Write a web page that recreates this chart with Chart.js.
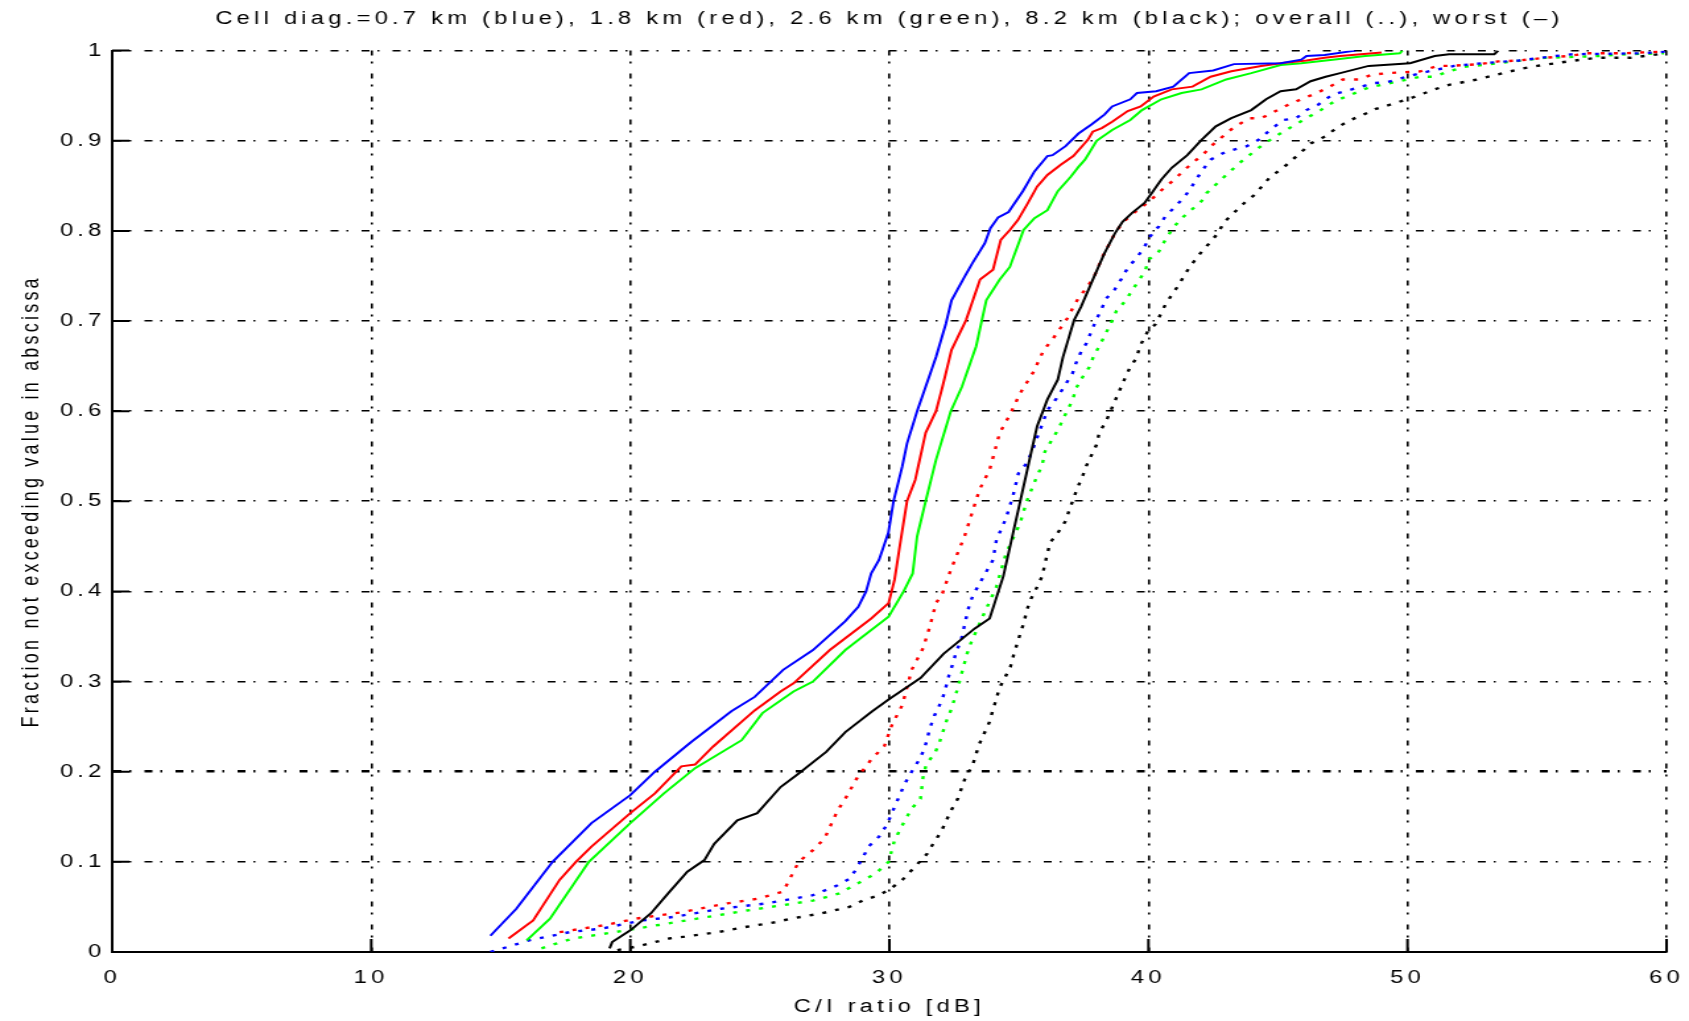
<!DOCTYPE html>
<html>
<head>
<meta charset="utf-8">
<script src="https://cdn.jsdelivr.net/npm/chart.js@4.4.0/dist/chart.umd.min.js"></script>
<style>
  html, body { margin: 0; padding: 0; background: #fff; }
  #wrap { width: 1689px; height: 1021px; }
</style>
</head>
<body>
<div id="wrap">
  <!-- drawn at 1280 wide and stretched, like the old upscaled figure -->
  <canvas id="cdfChart" width="1280" height="1021" style="width:1689px;height:1021px"></canvas>
</div>
<script>
const titleText = 'Cell diag.=0.7 km (blue), 1.8 km (red), 2.6 km (green), 8.2 km (black); overall (..), worst (\u2013)';
const xTitle = 'C/I ratio [dB]';
const yTitle = 'Fraction not exceeding value in abscissa';
const xTickLabels = ['0', '10', '20', '30', '40', '50', '60'];
const yTickLabels = ['0', '0.1', '0.2', '0.3', '0.4', '0.5', '0.6', '0.7', '0.8', '0.9', '1'];

// worst (solid) curves, [C/I dB, fraction]
const blueWorst = [[14.6,0.018],[15.6,0.048],[17.0,0.10],[18.5,0.143],[20.0,0.174],[20.95,0.20],[22.35,0.233],[23.9,0.267],[24.8,0.283],[25.9,0.313],[27.05,0.335],[28.3,0.367],[28.8,0.383],[29.1,0.40],[29.3,0.42],[29.6,0.435],[29.96,0.465],[30.16,0.50],[30.5,0.539],[30.68,0.564],[31.07,0.60],[31.4,0.627],[31.8,0.66],[32.18,0.697],[32.4,0.723],[32.9,0.749],[33.2,0.764],[33.68,0.786],[33.9,0.803],[34.2,0.815],[34.6,0.821],[35.15,0.844],[35.6,0.866],[36.1,0.883],[36.3,0.884],[36.8,0.894],[37.3,0.908],[37.8,0.918],[38.3,0.929],[38.6,0.938],[39.3,0.946],[39.56,0.953],[40.3,0.955],[40.96,0.96],[41.57,0.975],[42.5,0.978],[43.3,0.985],[45.1,0.986],[45.9,0.99],[46.1,0.994],[46.8,0.995],[48.0,1.0]];
const redWorst = [[15.3,0.015],[16.25,0.035],[17.27,0.08],[17.9,0.10],[18.5,0.117],[20.0,0.154],[20.95,0.176],[21.97,0.206],[22.5,0.208],[23.2,0.228],[24.8,0.268],[25.8,0.289],[26.3,0.298],[27.7,0.335],[29.3,0.37],[29.97,0.387],[30.2,0.413],[30.4,0.45],[30.68,0.50],[31.0,0.524],[31.4,0.576],[31.8,0.60],[32.05,0.627],[32.4,0.668],[32.96,0.701],[33.5,0.746],[34.0,0.757],[34.3,0.79],[34.65,0.801],[34.96,0.812],[35.35,0.831],[35.7,0.849],[36.1,0.862],[36.6,0.873],[37.1,0.883],[37.66,0.901],[37.85,0.91],[38.2,0.914],[38.6,0.921],[39.2,0.933],[39.7,0.938],[40.2,0.949],[40.9,0.957],[41.7,0.96],[42.4,0.971],[43.2,0.977],[44.35,0.983],[45.1,0.986],[46.1,0.989],[46.8,0.992],[47.4,0.994],[49.0,0.998]];
const greenWorst = [[16.0,0.013],[16.9,0.037],[18.4,0.10],[20.0,0.143],[21.3,0.176],[22.5,0.204],[24.3,0.235],[25.1,0.265],[26.3,0.289],[27.05,0.30],[28.3,0.335],[29.97,0.372],[30.55,0.40],[30.9,0.42],[31.07,0.461],[31.4,0.50],[31.8,0.546],[32.37,0.60],[32.8,0.627],[33.35,0.672],[33.74,0.723],[34.26,0.746],[34.65,0.76],[35.18,0.801],[35.6,0.814],[36.1,0.823],[36.5,0.844],[37.0,0.86],[37.3,0.871],[37.55,0.879],[38.0,0.90],[38.6,0.912],[39.3,0.923],[39.75,0.934],[40.5,0.946],[41.28,0.953],[42.05,0.957],[43.0,0.968],[43.97,0.975],[45.1,0.984],[45.9,0.986],[47.2,0.99],[48.37,0.994],[49.7,0.997],[49.8,1.0]];
const blackWorst = [[19.2,0.004],[19.3,0.011],[20.0,0.024],[20.8,0.043],[21.46,0.065],[22.2,0.089],[22.86,0.102],[23.24,0.12],[24.13,0.146],[24.9,0.154],[25.8,0.183],[26.5,0.198],[27.56,0.222],[28.3,0.244],[29.34,0.267],[29.97,0.28],[31.2,0.304],[32.1,0.331],[33.3,0.359],[33.87,0.37],[34.4,0.417],[34.8,0.468],[35.05,0.50],[35.44,0.55],[35.7,0.583],[36.1,0.613],[36.5,0.635],[36.7,0.66],[37.13,0.701],[37.4,0.716],[37.9,0.749],[38.3,0.775],[38.7,0.797],[39.0,0.81],[39.37,0.82],[39.85,0.831],[40.13,0.842],[40.5,0.857],[40.9,0.87],[41.5,0.884],[42.05,0.901],[42.6,0.916],[43.2,0.925],[43.97,0.934],[44.54,0.946],[45.1,0.955],[45.7,0.957],[46.26,0.966],[46.84,0.971],[47.4,0.975],[48.5,0.983],[50.1,0.986],[51.05,0.994],[51.6,0.996],[53.35,0.996],[53.5,1.0]];

// overall (dotted) curves
const blueOverall = [[14.6,0.0],[14.85,0.002],[15.3,0.006],[16.1,0.013],[17.65,0.022],[18.9,0.026],[20.45,0.035],[21.7,0.039],[23.5,0.048],[25.27,0.054],[27.05,0.063],[28.0,0.074],[28.45,0.081],[28.7,0.091],[28.96,0.104],[29.2,0.117],[29.6,0.128],[29.9,0.141],[30.2,0.161],[30.6,0.187],[30.86,0.20],[31.1,0.211],[31.3,0.222],[31.43,0.233],[31.56,0.248],[31.75,0.263],[31.88,0.27],[32.07,0.283],[32.2,0.296],[32.3,0.307],[32.45,0.32],[32.58,0.333],[32.77,0.346],[32.96,0.37],[33.1,0.387],[33.27,0.398],[34.0,0.435],[34.13,0.457],[34.5,0.481],[34.78,0.507],[34.98,0.531],[35.3,0.542],[35.5,0.555],[36.1,0.601],[36.5,0.616],[36.74,0.627],[37.07,0.642],[37.2,0.653],[37.4,0.666],[37.6,0.675],[37.98,0.701],[38.17,0.712],[38.37,0.725],[38.7,0.735],[38.96,0.747],[39.2,0.759],[39.54,0.77],[39.8,0.78],[40.07,0.794],[40.4,0.805],[40.65,0.816],[41.0,0.826],[41.4,0.838],[41.67,0.849],[42.05,0.866],[42.4,0.879],[43.0,0.888],[43.8,0.894],[44.25,0.901],[44.7,0.912],[45.2,0.923],[45.7,0.925],[46.1,0.934],[46.55,0.94],[47.1,0.951],[48.1,0.959],[48.7,0.964],[49.2,0.965],[50.5,0.975],[51.15,0.979],[51.8,0.983],[52.9,0.986],[54.3,0.989],[55.7,0.994],[56.4,0.996],[59.1,0.997],[60.0,0.999]];
const redOverall = [[17.27,0.022],[19.05,0.03],[20.2,0.037],[21.97,0.044],[23.75,0.054],[24.9,0.059],[25.9,0.067],[26.5,0.10],[27.05,0.113],[27.5,0.126],[28.0,0.157],[28.3,0.17],[28.77,0.194],[29.34,0.215],[29.8,0.228],[30.1,0.252],[30.5,0.274],[30.86,0.313],[31.3,0.337],[31.56,0.361],[31.8,0.387],[32.05,0.398],[32.37,0.424],[32.9,0.461],[33.48,0.513],[33.87,0.535],[34.26,0.576],[34.65,0.596],[35.05,0.62],[35.57,0.644],[35.96,0.668],[36.28,0.679],[36.87,0.703],[37.07,0.714],[37.33,0.727],[37.6,0.736],[37.9,0.749],[38.24,0.772],[38.7,0.797],[39.0,0.809],[39.35,0.818],[40.0,0.832],[40.5,0.845],[41.0,0.857],[41.4,0.868],[42.15,0.886],[42.5,0.896],[43.3,0.915],[43.9,0.925],[44.35,0.925],[45.4,0.94],[45.9,0.946],[46.5,0.953],[47.0,0.96],[47.5,0.968],[48.1,0.968],[48.6,0.973],[49.2,0.975],[50.5,0.977],[51.15,0.983],[51.6,0.983],[52.8,0.985],[53.5,0.988],[54.3,0.989],[55.3,0.992],[56.2,0.994],[57.0,0.997],[58.3,0.997],[59.9,0.999]];
const greenOverall = [[16.57,0.004],[17.1,0.009],[17.8,0.015],[19.4,0.022],[21.1,0.03],[23.0,0.039],[24.5,0.046],[27.05,0.057],[28.07,0.065],[29.47,0.087],[29.97,0.10],[30.2,0.124],[30.6,0.146],[30.86,0.159],[31.2,0.17],[31.3,0.194],[31.43,0.209],[31.75,0.22],[31.94,0.233],[32.2,0.256],[32.4,0.27],[32.64,0.293],[32.77,0.307],[33.0,0.331],[33.15,0.343],[33.6,0.372],[34.13,0.405],[34.5,0.442],[35.05,0.476],[35.3,0.50],[35.7,0.528],[35.9,0.54],[36.0,0.555],[36.5,0.579],[36.67,0.589],[36.87,0.601],[37.07,0.612],[37.2,0.625],[37.46,0.638],[37.72,0.649],[37.9,0.662],[38.1,0.672],[38.56,0.698],[38.76,0.711],[39.1,0.722],[39.35,0.733],[39.6,0.744],[39.87,0.755],[40.0,0.768],[40.4,0.777],[40.65,0.79],[40.9,0.801],[41.2,0.812],[42.05,0.833],[42.25,0.842],[43.0,0.862],[43.5,0.875],[44.25,0.892],[44.7,0.901],[45.2,0.91],[46.1,0.925],[46.65,0.934],[47.2,0.944],[48.5,0.959],[50.5,0.971],[51.0,0.971],[51.6,0.977],[52.2,0.982],[52.9,0.984],[53.5,0.986],[54.4,0.989],[55.3,0.992],[56.4,0.993],[57.4,0.994],[58.5,0.996],[59.9,0.997]];
const blackOverall = [[19.5,0.002],[20.4,0.007],[20.95,0.011],[21.5,0.015],[22.1,0.017],[23.37,0.022],[24.5,0.028],[25.6,0.033],[26.2,0.037],[27.4,0.043],[28.45,0.05],[28.96,0.057],[29.6,0.063],[30.04,0.07],[30.5,0.08],[31.0,0.095],[31.46,0.109],[31.73,0.122],[31.99,0.133],[32.38,0.157],[32.64,0.17],[32.8,0.183],[32.94,0.194],[33.2,0.206],[33.33,0.218],[33.46,0.23],[33.86,0.255],[33.99,0.268],[34.12,0.28],[34.25,0.293],[34.67,0.316],[34.8,0.33],[34.93,0.342],[35.06,0.354],[35.2,0.366],[35.3,0.379],[35.47,0.392],[35.65,0.402],[35.9,0.417],[36.0,0.43],[36.2,0.454],[36.5,0.465],[36.8,0.478],[36.94,0.49],[37.07,0.50],[37.26,0.515],[37.46,0.528],[37.6,0.539],[37.78,0.55],[38.0,0.563],[38.1,0.576],[38.37,0.589],[38.9,0.624],[39.1,0.637],[39.28,0.648],[39.54,0.659],[39.67,0.672],[40.0,0.69],[40.26,0.696],[40.46,0.707],[40.65,0.718],[40.9,0.729],[41.17,0.74],[41.43,0.753],[41.7,0.764],[42.0,0.775],[42.4,0.788],[42.67,0.797],[42.93,0.81],[43.7,0.831],[44.1,0.84],[44.7,0.86],[45.2,0.87],[46.0,0.89],[46.26,0.897],[46.84,0.905],[47.3,0.915],[47.8,0.923],[48.3,0.929],[48.75,0.935],[49.33,0.94],[50.2,0.948],[51.05,0.957],[51.6,0.962],[52.7,0.968],[53.25,0.972],[54.4,0.98],[55.0,0.983],[56.2,0.988],[57.3,0.992],[58.6,0.992],[60.0,0.997]];

const fontFamily = '"Liberation Sans", Arial, sans-serif';
const fontSize = 18;
const letterGap = '3.2px';

function toPoints(arr) {
    return arr.map(p => ({ x: p[0], y: p[1] }));
}

function makeSet(label, arr, color, dotted) {
    return {
        label: label,
        data: toPoints(arr),
        borderColor: color,
        backgroundColor: color,
        borderWidth: dotted ? 2.4 : 2,
        borderDash: dotted ? [3, 7] : [],
        showLine: true,
        pointRadius: 0,
        tension: 0,
        fill: false
    };
}

// spread the letters a little, the old bitmap font is wide
const spacingPlugin = {
    id: 'spacing',
    beforeUpdate(chart) { chart.ctx.letterSpacing = letterGap; },
    beforeDraw(chart) { chart.ctx.letterSpacing = letterGap; }
};

// inward tick marks, matlab style
const innerTicks = {
    id: 'innerTicks',
    afterDraw(chart) {
        const ctx = chart.ctx;
        const xs = chart.scales.x;
        const ys = chart.scales.y;
        const area = chart.chartArea;
        ctx.save();
        ctx.strokeStyle = '#000';
        ctx.lineWidth = 2;
        ctx.setLineDash([]);
        ctx.beginPath();
        xs.ticks.forEach(t => {
            const px = xs.getPixelForValue(t.value);
            ctx.moveTo(px, area.bottom);
            ctx.lineTo(px, area.bottom - 13);
        });
        ys.ticks.forEach(t => {
            const py = ys.getPixelForValue(t.value);
            ctx.moveTo(area.left, py);
            ctx.lineTo(area.left + 13, py);
        });
        ctx.stroke();
        ctx.restore();
    }
};

const ctx = document.getElementById('cdfChart').getContext('2d');
new Chart(ctx, {
    type: 'scatter',
    data: {
        datasets: [
            makeSet('0.7 km worst', blueWorst, '#0000ff', false),
            makeSet('1.8 km worst', redWorst, '#ff0000', false),
            makeSet('2.6 km worst', greenWorst, '#00ff00', false),
            makeSet('8.2 km worst', blackWorst, '#000000', false),
            makeSet('0.7 km overall', blueOverall, '#0000ff', true),
            makeSet('1.8 km overall', redOverall, '#ff0000', true),
            makeSet('2.6 km overall', greenOverall, '#00ff00', true),
            makeSet('8.2 km overall', blackOverall, '#000000', true)
        ]
    },
    options: {
        responsive: false,
        animation: false,
        layout: { padding: { left: 0, right: 17, top: 0, bottom: 0 } },
        plugins: {
            legend: { display: false },
            tooltip: { enabled: false },
            title: {
                display: true,
                text: titleText,
                fullSize: false,
                color: '#000',
                font: { family: fontFamily, size: fontSize, weight: 'normal' },
                padding: { top: 8, bottom: 21 }
            }
        },
        scales: {
            x: {
                type: 'linear',
                min: 0,
                max: 60,
                afterFit(scale) {
                    scale.height = 69;
                    scale.paddingLeft = 0;
                    scale.paddingRight = 0;
                },
                afterBuildTicks(scale) {
                    scale.ticks = xTickLabels.map(v => ({ value: Number(v) }));
                },
                ticks: {
                    color: '#000',
                    padding: 15,
                    maxRotation: 0,
                    font: { family: fontFamily, size: fontSize },
                    callback: (value, index) => xTickLabels[index]
                },
                grid: { color: '#000', lineWidth: 1.6, drawTicks: false },
                border: { display: true, color: '#000', width: 2, dash: [5, 6, 2, 10] },
                title: {
                    display: true,
                    text: xTitle,
                    color: '#000',
                    font: { family: fontFamily, size: fontSize },
                    padding: { top: 0, bottom: 3 }
                }
            },
            y: {
                type: 'linear',
                min: 0,
                max: 1,
                afterFit(scale) { scale.width = 85; },
                afterBuildTicks(scale) {
                    scale.ticks = yTickLabels.map(v => ({ value: Number(v) }));
                },
                ticks: {
                    color: '#000',
                    padding: 5,
                    font: { family: fontFamily, size: fontSize },
                    callback: (value, index) => yTickLabels[index]
                },
                grid: {
                    color: '#000',
                    lineWidth: c => (c.tick && c.tick.value === 0.2 ? 2.6 : 1.6),
                    drawTicks: false
                },
                border: { display: true, color: '#000', width: 2, dash: [6, 6, 1.5, 10] },
                title: {
                    display: true,
                    text: yTitle,
                    color: '#000',
                    font: { family: fontFamily, size: fontSize },
                    padding: { top: 13, bottom: 0 }
                }
            }
        }
    },
    plugins: [spacingPlugin, innerTicks]
});
</script>
</body>
</html>
